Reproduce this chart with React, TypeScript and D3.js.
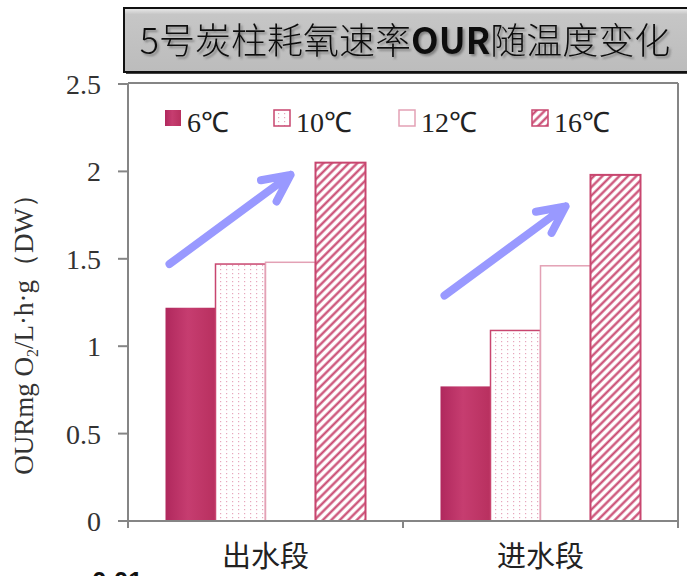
import React from "react";
import * as d3 from "d3";

// Categories, series and values
const categories = ["出水段", "进水段"];
const seriesNames = ["6℃", "10℃", "12℃", "16℃"];
const values6 = [1.22, 0.77];
const values10 = [1.47, 1.09];
const values12 = [1.48, 1.46];
const values16 = [2.05, 1.98];
const yTicks = [0, 0.5, 1, 1.5, 2, 2.5];
const yTickLabels = ["0", "0.5", "1", "1.5", "2", "2.5"];
// Trend arrows: from a low value near the first bar up to a high value above the third bar
const arrowFrom = [1.47, 1.29];
const arrowTo = [1.98, 1.8];

const W = 687;
const H = 576;
const PINK = "#c8466f";

const seriesValues = [values6, values10, values12, values16];
const seriesFill = ["url(#solid6)", "url(#dots10)", "#ffffff", "url(#hatch16)"];
const seriesStroke = ["none", PINK, "#e3a1b5", PINK];
const seriesStrokeW = [0, 1.5, 1.5, 2];

export default function App() {
  const plot = { left: 128, right: 678, top: 84, bottom: 521 };
  const y = d3.scaleLinear().domain([0, 2.5]).range([plot.bottom, plot.top]);
  const x0 = d3.scaleBand<string>().domain(categories).range([plot.left, plot.right]).padding(0);
  const x1 = d3
    .scaleBand<string>()
    .domain(seriesNames)
    .range([0, x0.bandwidth()])
    .paddingInner(0)
    .paddingOuter(0.75);

  const legendX = [165, 274, 399, 532];

  const arrowPath = (i: number) => {
    const cat = categories[i];
    const tx = (x0(cat) as number) + (x1(seriesNames[0]) as number) + 4;
    const ty = y(arrowFrom[i]);
    const hx = (x0(cat) as number) + (x1(seriesNames[2]) as number) + x1.bandwidth() / 2;
    const hy = y(arrowTo[i]);
    const ang = Math.atan2(ty - hy, tx - hx);
    const len = 30;
    const a = (26 * Math.PI) / 180;
    const p1 = [hx + len * Math.cos(ang + a), hy + len * Math.sin(ang + a)];
    const p2 = [hx + len * Math.cos(ang - a), hy + len * Math.sin(ang - a)];
    return `M${tx},${ty}L${hx},${hy}M${p1[0]},${p1[1]}L${hx},${hy}L${p2[0]},${p2[1]}`;
  };

  return (
    <svg
      width={W}
      height={H}
      style={{ position: "absolute", left: 0, top: 0, background: "#fff" }}
    >
      <defs>
        <linearGradient id="solid6" x1="0" x2="1" y1="0" y2="0">
          <stop offset="0%" stopColor="#b0285d" />
          <stop offset="45%" stopColor="#c63d70" />
          <stop offset="100%" stopColor="#b8305f" />
        </linearGradient>
        <pattern id="dots10" width="6" height="4" patternUnits="userSpaceOnUse">
          <rect width="6" height="4" fill="#fff" />
          <rect x="2" y="1" width="1.2" height="1.2" fill="#e7a7bd" />
        </pattern>
        <pattern
          id="hatch16"
          width="6"
          height="6"
          patternUnits="userSpaceOnUse"
          patternTransform="rotate(45)"
        >
          <rect width="6" height="6" fill="#fff" />
          <line x1="1.5" y1="0" x2="1.5" y2="6" stroke={PINK} strokeWidth="2.2" />
        </pattern>
        <linearGradient id="titleFill" x1="0" x2="0" y1="0" y2="1">
          <stop offset="0%" stopColor="#ececec" />
          <stop offset="10%" stopColor="#c6c6c6" />
          <stop offset="100%" stopColor="#bcbcbc" />
        </linearGradient>
        <filter id="titleShadow" x="-5%" y="-30%" width="110%" height="160%">
          <feDropShadow dx="2" dy="2" stdDeviation="1" floodColor="#555" floodOpacity="0.6" />
        </filter>
      </defs>

      {/* Title box */}
      <rect x={126} y={10} width={600} height={64} fill="#444" />
      <rect x={124} y={8} width={600} height={64} fill="url(#titleFill)" stroke="#111" strokeWidth={2} />
      <text
        x={405}
        y={54}
        fill="#111"
        fontFamily="'Noto Sans CJK SC'"
        fontWeight={300}
        fontSize={36}
        textAnchor="middle"
        filter="url(#titleShadow)"
      >
        5号炭柱耗氧速率<tspan fontWeight={700}>OUR</tspan>随温度变化
      </text>

      {/* Bars */}
      {categories.map((cat, ci) => (
        <g key={cat} transform={`translate(${x0(cat)},0)`}>
          {seriesNames.map((s, si) => {
            const v = seriesValues[si][ci];
            return (
              <rect
                key={s}
                x={x1(s)}
                y={y(v)}
                width={x1.bandwidth()}
                height={y(0) - y(v)}
                fill={seriesFill[si]}
                stroke={seriesStroke[si]}
                strokeWidth={seriesStrokeW[si]}
              />
            );
          })}
        </g>
      ))}

      {/* Plot frame and axes */}
      <g stroke="#858585" strokeWidth={2} fill="none">
        <line x1={plot.left} y1={plot.top - 1} x2={plot.right} y2={plot.top - 1} />
        <line x1={plot.right} y1={plot.top - 1} x2={plot.right} y2={plot.bottom + 7} />
        <line x1={plot.left} y1={plot.top - 1} x2={plot.left} y2={plot.bottom + 7} />
        <line x1={plot.left - 10} y1={plot.bottom} x2={plot.right} y2={plot.bottom} />
        {yTicks.map((t) => (
          <line key={t} x1={plot.left - 10} x2={plot.left} y1={y(t)} y2={y(t)} />
        ))}
        {categories.slice(1).map((c) => (
          <line key={c} x1={x0(c)} x2={x0(c)} y1={plot.bottom} y2={plot.bottom + 7} />
        ))}
      </g>

      {/* Y tick labels */}
      <g fontFamily="'Liberation Serif'" fontSize={28} fill="#333" textAnchor="end">
        {yTicks.map((t, i) => (
          <text key={t} x={101} y={y(t) + 10}>
            {yTickLabels[i]}
          </text>
        ))}
      </g>

      {/* Y axis title */}
      <text
        transform="translate(33,328) rotate(-90)"
        textAnchor="middle"
        fontFamily="'Liberation Serif'"
        fontSize={27}
        fill="#333"
      >
        OURmg O<tspan fontSize={16} dy={5}>2</tspan>
        <tspan dy={-5}>/L·h·g（DW）</tspan>
      </text>

      {/* X category labels */}
      <g fontFamily="'Noto Sans CJK SC'" fontSize={29} fill="#222" textAnchor="middle">
        {categories.map((c) => (
          <text key={c} x={(x0(c) as number) + x0.bandwidth() / 2} y={567}>
            {c}
          </text>
        ))}
      </g>

      {/* Legend */}
      {seriesNames.map((s, i) => (
        <g key={s}>
          <rect
            x={legendX[i]}
            y={110}
            width={16}
            height={16}
            fill={seriesFill[i]}
            stroke={seriesStroke[i]}
            strokeWidth={i === 0 ? 0 : 1.5}
          />
          <text
            x={legendX[i] + 22}
            y={132}
            fontFamily="'Liberation Serif'"
            fontSize={28}
            fill="#222"
          >
            {s}
          </text>
        </g>
      ))}

      {/* Trend arrows */}
      {categories.map((c, i) => (
        <path
          key={c}
          d={arrowPath(i)}
          fill="none"
          stroke="#9999ff"
          strokeWidth={8}
          strokeLinecap="round"
          strokeLinejoin="round"
        />
      ))}

      {/* Clipped caption at the bottom edge */}
      <text x={92} y={590} fontFamily="'Liberation Sans'" fontWeight={700} fontSize={26} fill="#111">
        0.01
      </text>
    </svg>
  );
}
